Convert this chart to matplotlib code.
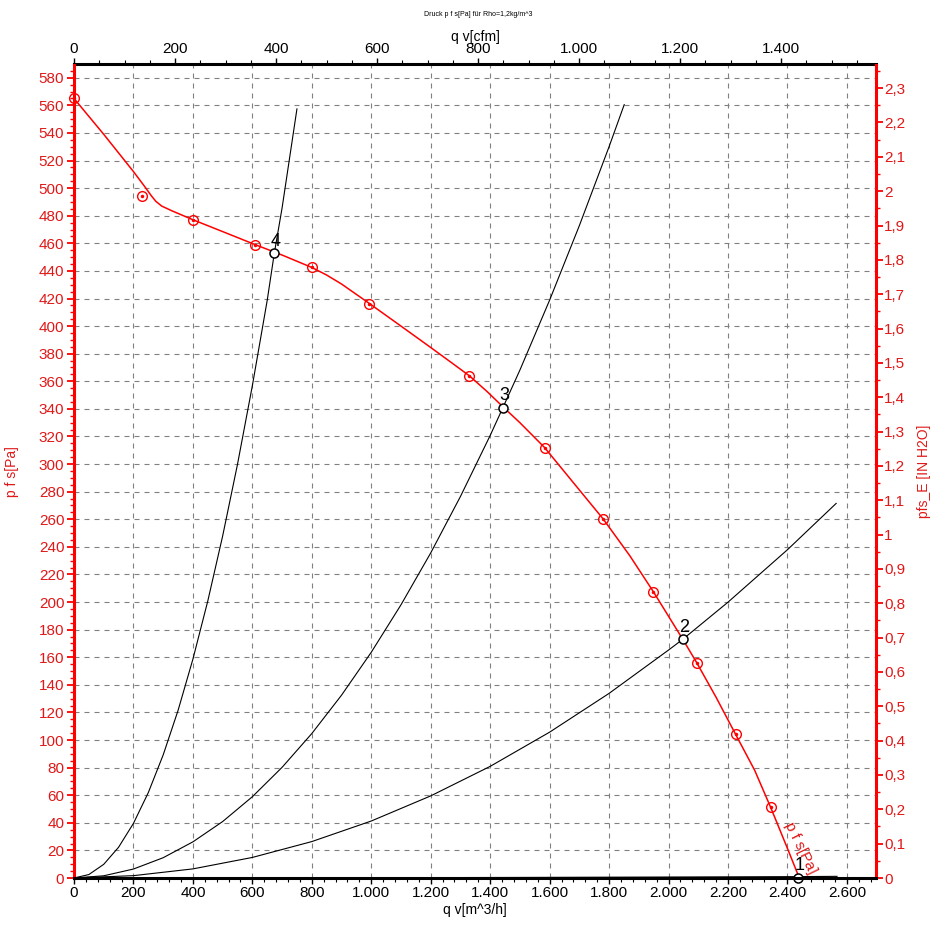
import matplotlib
matplotlib.use('Agg')
import matplotlib.pyplot as plt
from matplotlib.ticker import MultipleLocator, FuncFormatter

plt.rcParams['font.family'] = ['Liberation Sans', 'DejaVu Sans']

# ---- data ----
fan_q = [0, 50, 100, 150, 200, 240, 260, 275, 295, 330, 401, 500, 610, 700, 800, 850, 900, 993,
         1100, 1200, 1270, 1330, 1390, 1443, 1500, 1583, 1680, 1781, 1870, 1949, 2048, 2095,
         2160, 2226, 2290, 2344, 2400, 2440]
fan_p = [565, 552, 539, 525.5, 512, 500.5, 494.5, 490.5, 487, 483.5, 477, 468.5, 459, 451.5, 442.5, 437, 430.5, 416.5,
         400, 384.5, 373.5, 364, 352.5, 341.5, 330, 312, 286.5, 260, 233.5, 207.5, 173, 156,
         131, 104, 78, 51, 21.5, 0]

marker_q = [0, 228, 401, 610, 800, 993, 1330, 1583, 1781, 1949, 2095, 2226, 2344]
marker_p = [565, 494, 477, 459, 442.5, 416, 364, 312, 260, 207.5, 155.6, 104.3, 51.2]

sys4_q = [0, 50, 100, 150, 200, 250, 300, 350, 400, 450, 500, 550, 600, 650, 674, 700, 750]
sys4_p = [0, 2.5, 9.9, 22.3, 39.6, 61.9, 89.2, 121.4, 158.6, 200.7, 247.8, 299.8, 356.8, 418.7, 453, 485.6, 557.4]

sys3_q = [0, 100, 200, 300, 400, 500, 600, 700, 800, 900, 1000, 1100, 1200, 1300, 1400, 1443, 1500, 1600, 1700, 1800, 1851]
sys3_p = [0, 1.6, 6.5, 14.7, 26.2, 40.9, 58.9, 80.2, 104.7, 132.5, 163.6, 198, 235.6, 276.5, 320.7, 341, 368.1, 418.8, 472.8, 530, 560.5]

sys2_q = [0, 200, 400, 600, 800, 1000, 1200, 1400, 1600, 1800, 2000, 2048, 2200, 2400, 2564]
sys2_p = [0, 1.7, 6.6, 14.9, 26.4, 41.3, 59.5, 80.9, 105.7, 133.8, 165.2, 173, 199.9, 237.9, 271.5]

sys1_q = [0, 500, 1000, 1500, 2000, 2437, 2567]
sys1_p = [0, 0.05, 0.2, 0.4, 0.7, 1.0, 1.2]

op_labels = ['1', '2', '3', '4']
op_q = [2437, 2048, 1443, 674]
op_p = [0.3, 173, 341, 453]

RED = '#ff0000'
RED_TXT = '#e01818'
PA_PER_INH2O = 248.9
M3H_PER_CFM = 1.699

fig = plt.figure(figsize=(9.47, 9.41), dpi=100)
ax = fig.add_axes([74/947, 63/941, 802/947, 813.5/941])
ax.set_xlim(0, 2698)
ax.set_ylim(0, 589.6)

# grid
for xv in range(200, 2700, 200):
    ax.axvline(xv, color='#808080', lw=0.8, dashes=(4.5, 4.5), zorder=0)
for yv in range(20, 590, 20):
    ax.axhline(yv, color='#808080', lw=0.8, dashes=(4.5, 4.5), zorder=0)

# system curves
for q, p in [(sys4_q, sys4_p), (sys3_q, sys3_p), (sys2_q, sys2_p), (sys1_q, sys1_p)]:
    ax.plot(q, p, color='black', lw=0.8, zorder=2)

# fan curve
ax.plot(fan_q, fan_p, color=RED, lw=1.1, zorder=3, clip_on=False)
ax.plot(marker_q, marker_p, ls='none', marker='o', ms=7, mfc='none', mec=RED, mew=1.0,
        zorder=4, clip_on=False)
ax.plot(marker_q, marker_p, ls='none', marker='o', ms=1.5, mfc=RED, mec=RED,
        zorder=4, clip_on=False)

# operating points
ax.plot(op_q, op_p, ls='none', marker='o', ms=6.5, mfc='white', mec='black', mew=1.1,
        zorder=5, clip_on=False)
for lab, q, p in zip(op_labels, op_q, op_p):
    ax.annotate(lab, (q, p), xytext=(1, 2.5), textcoords='offset points',
                ha='center', va='bottom', fontsize=13, color='black', zorder=6)

ax.text(2445, 22, 'p f s[Pa]', rotation=-64, rotation_mode='anchor', ha='center',
        va='center', fontsize=11, color=RED_TXT, clip_on=False, zorder=6)

# axes styling
ax.spines['right'].set_visible(False)
ax.spines['top'].set_visible(False)
ax.spines['left'].set_color(RED)
ax.spines['left'].set_linewidth(2.2)
ax.spines['bottom'].set_color('black')
ax.spines['bottom'].set_linewidth(2.2)
ax.spines['left'].set_zorder(7)
ax.spines['bottom'].set_zorder(7)

thousands = FuncFormatter(lambda v, pos: f"{v:,.0f}".replace(",", "."))

ax.set_xticks(list(range(0, 2700, 200)))
ax.xaxis.set_minor_locator(MultipleLocator(40))
ax.xaxis.set_major_formatter(thousands)
ax.tick_params(axis='x', which='major', length=4, width=1, labelsize=11, pad=2)
ax.tick_params(axis='x', which='minor', length=3, width=0.8)

ax.set_yticks(list(range(0, 600, 20)))
ax.yaxis.set_minor_locator(MultipleLocator(5))
ax.tick_params(axis='y', which='major', length=5, width=1.3, color=RED, labelcolor=RED_TXT, labelsize=11, pad=2)
ax.tick_params(axis='y', which='minor', length=3, width=1.0, color=RED)
ax.set_ylabel('p f s[Pa]', color=RED_TXT, fontsize=10, labelpad=14)
ax.set_xlabel('q v[m^3/h]', fontsize=10, labelpad=2)

# secondary top axis (cfm)
top = ax.secondary_xaxis('top', functions=(lambda x: x / M3H_PER_CFM, lambda c: c * M3H_PER_CFM))
top.set_xticks(list(range(0, 1600, 200)))
top.xaxis.set_minor_locator(MultipleLocator(50))
top.xaxis.set_major_formatter(thousands)
top.spines['top'].set_linewidth(2.2)
top.tick_params(axis='x', which='major', length=4, width=1, labelsize=11, pad=2)
top.tick_params(axis='x', which='minor', length=3, width=0.8)
top.set_xlabel('q v[cfm]', fontsize=10, labelpad=1)

# secondary right axis (in H2O)
def in_fmt(v, pos):
    s = f"{v:.1f}"
    if s.endswith('.0'):
        s = s[:-2]
    return s.replace('.', ',')

right = ax.secondary_yaxis('right', functions=(lambda p: p / PA_PER_INH2O, lambda i: i * PA_PER_INH2O))
right.set_yticks([i / 10 for i in range(0, 24)])
right.yaxis.set_minor_locator(MultipleLocator(0.05))
right.yaxis.set_major_formatter(FuncFormatter(in_fmt))
right.spines['right'].set_color(RED)
right.spines['right'].set_linewidth(2.2)
right.tick_params(axis='y', which='major', length=5, width=1.3, color=RED, labelcolor=RED_TXT, labelsize=11, pad=1)
right.tick_params(axis='y', which='minor', length=3, width=1.0, color=RED)
right.set_ylabel('pfs_E [IN H2O]', color=RED_TXT, fontsize=10, labelpad=8)

fig.text(478/947, 1 - 14/941, 'Druck p f s[Pa] für Rho=1,2kg/m^3', fontsize=5, ha='center', va='center')

fig.savefig('out.png', dpi=100)
